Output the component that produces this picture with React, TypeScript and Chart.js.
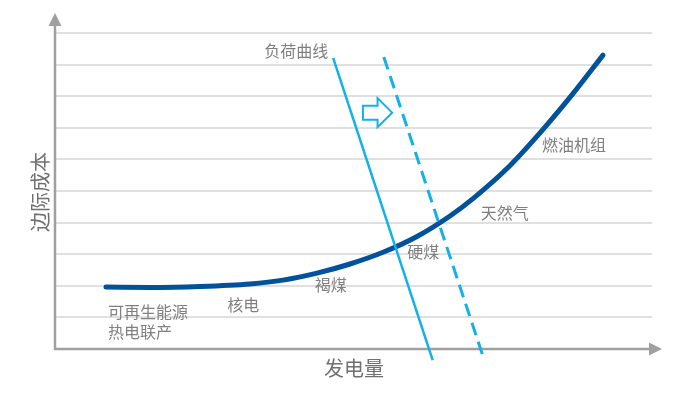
import { useEffect, useRef } from "react";
import { Chart, registerables } from "chart.js";

Chart.register(...registerables);

// Merit-order supply curve (marginal cost vs. generation), arbitrary units
const supplyX = [8.39, 15.77, 24.16, 32.55, 38.09, 43.79, 49.33, 54.87, 60.57, 66.11, 69.97, 75.67, 81.21, 86.74, 91.78];
const supplyY = [1.96, 1.95, 1.98, 2.06, 2.18, 2.4, 2.69, 3.06, 3.56, 4.21, 4.76, 5.71, 6.84, 8.08, 9.3];

// Load (demand) curve and the shifted load curve
const loadX = [46.5, 63.2];
const loadY = [9.21, -0.35];
const shiftedLoadX = [55.0, 71.8];
const shiftedLoadY = [9.24, -0.32];

// Text annotations
const labelTexts = ["负荷曲线", "燃油机组", "天然气", "硬煤", "褐煤", "核电", "可再生能源", "热电联产"];
const labelX = [40.3, 86.9, 75.3, 61.6, 46.1, 31.4, 8.72, 8.72];
const labelY = [9.43, 6.46, 4.3, 3.07, 2.03, 1.39, 1.17, 0.54];
const labelAlign = ["center", "center", "center", "center", "center", "center", "left", "left"];

// Shift arrow anchor (data units): left edge x, tip x, center y
const shiftArrowX = [51.5, 56.4];
const shiftArrowY = [7.48];

const xTitle = "发电量";
const yTitle = "边际成本";

const FONT = '"Noto Sans CJK SC", "Noto Sans", sans-serif';
const TEXT_COLOR = "#808080";
const AXIS_COLOR = "#a0a0a0";
const LIGHT_BLUE = "#14b0ec";
const DARK_BLUE = "#00529b";

const decorPlugin = {
  id: "decor",
  beforeDatasetsDraw(chart: any) {
    const { ctx, chartArea } = chart;
    const left = chartArea.left - 1;
    const bottom = chartArea.bottom;
    ctx.save();
    ctx.strokeStyle = AXIS_COLOR;
    ctx.fillStyle = AXIS_COLOR;
    ctx.lineWidth = 2.5;
    // y axis
    ctx.beginPath();
    ctx.moveTo(left, bottom + 1);
    ctx.lineTo(left, chartArea.top - 8);
    ctx.stroke();
    ctx.beginPath();
    ctx.moveTo(left, chartArea.top - 20);
    ctx.lineTo(left - 6.5, chartArea.top - 7);
    ctx.lineTo(left + 6.5, chartArea.top - 7);
    ctx.closePath();
    ctx.fill();
    // x axis
    ctx.beginPath();
    ctx.moveTo(left - 1, bottom);
    ctx.lineTo(chartArea.right - 2, bottom);
    ctx.stroke();
    ctx.beginPath();
    ctx.moveTo(chartArea.right + 10, bottom);
    ctx.lineTo(chartArea.right - 3, bottom - 6.5);
    ctx.lineTo(chartArea.right - 3, bottom + 6.5);
    ctx.closePath();
    ctx.fill();

    // axis titles
    ctx.fillStyle = "#707070";
    ctx.font = `20px ${FONT}`;
    ctx.textAlign = "center";
    ctx.textBaseline = "middle";
    ctx.fillText(xTitle, (chartArea.left + chartArea.right) / 2 + 0, bottom + 19);
    ctx.save();
    ctx.translate(left - 15, (chartArea.top + bottom) / 2 + 1);
    ctx.rotate(-Math.PI / 2);
    ctx.fillText(yTitle, 0, 0);
    ctx.restore();
    ctx.restore();
  },
  afterDatasetsDraw(chart: any) {
    const { ctx } = chart;
    const xs = chart.scales.x;
    const ys = chart.scales.y;
    ctx.save();
    ctx.fillStyle = TEXT_COLOR;
    ctx.font = `16px ${FONT}`;
    ctx.textBaseline = "middle";
    labelTexts.forEach((t, i) => {
      ctx.textAlign = labelAlign[i];
      ctx.fillText(t, xs.getPixelForValue(labelX[i]), ys.getPixelForValue(labelY[i]));
    });

    // hollow shift arrow
    const x0 = xs.getPixelForValue(shiftArrowX[0]);
    const x2 = xs.getPixelForValue(shiftArrowX[1]);
    const cy = ys.getPixelForValue(shiftArrowY[0]);
    const w = x2 - x0;
    const x1 = x0 + w * 0.5;
    ctx.beginPath();
    ctx.moveTo(x0, cy - 7);
    ctx.lineTo(x1, cy - 7);
    ctx.lineTo(x1, cy - 14.5);
    ctx.lineTo(x2, cy);
    ctx.lineTo(x1, cy + 14.5);
    ctx.lineTo(x1, cy + 7);
    ctx.lineTo(x0, cy + 7);
    ctx.closePath();
    ctx.fillStyle = "#ffffff";
    ctx.fill();
    ctx.strokeStyle = LIGHT_BLUE;
    ctx.lineWidth = 2;
    ctx.lineJoin = "miter";
    ctx.stroke();
    ctx.restore();
  },
};

export default function App() {
  const canvasRef = useRef<HTMLCanvasElement | null>(null);

  useEffect(() => {
    if (!canvasRef.current) return;
    const toPts = (xs: number[], ys: number[]) => xs.map((x, i) => ({ x, y: ys[i] }));
    const chart = new Chart(canvasRef.current, {
      type: "scatter",
      data: {
        datasets: [
          {
            data: toPts(loadX, loadY),
            showLine: true,
            borderColor: LIGHT_BLUE,
            borderWidth: 2.5,
            pointRadius: 0,
            clip: false as any,
          },
          {
            data: toPts(shiftedLoadX, shiftedLoadY),
            showLine: true,
            borderColor: LIGHT_BLUE,
            borderWidth: 3,
            borderDash: [13, 7],
            pointRadius: 0,
            clip: false as any,
          },
          {
            data: toPts(supplyX, supplyY),
            showLine: true,
            borderColor: DARK_BLUE,
            borderWidth: 5,
            borderCapStyle: "round",
            cubicInterpolationMode: "monotone",
            pointRadius: 0,
            clip: false as any,
          },
        ],
      },
      options: {
        animation: false,
        responsive: true,
        maintainAspectRatio: false,
        layout: { padding: { left: 56, top: 33, right: 24, bottom: 58 } },
        plugins: { legend: { display: false }, tooltip: { enabled: false } },
        scales: {
          x: { type: "linear", min: 0, max: 100, display: false },
          y: {
            type: "linear",
            min: 0,
            max: 10,
            ticks: { display: false, stepSize: 1 },
            grid: { color: "#e0e0e0", lineWidth: 2, drawTicks: false },
            border: { display: false },
          },
        },
      },
      plugins: [decorPlugin],
    });
    return () => chart.destroy();
  }, []);

  return (
    <div style={{ position: "fixed", left: 0, top: 0, width: 676, height: 407, background: "#fff" }}>
      <canvas ref={canvasRef} />
    </div>
  );
}
